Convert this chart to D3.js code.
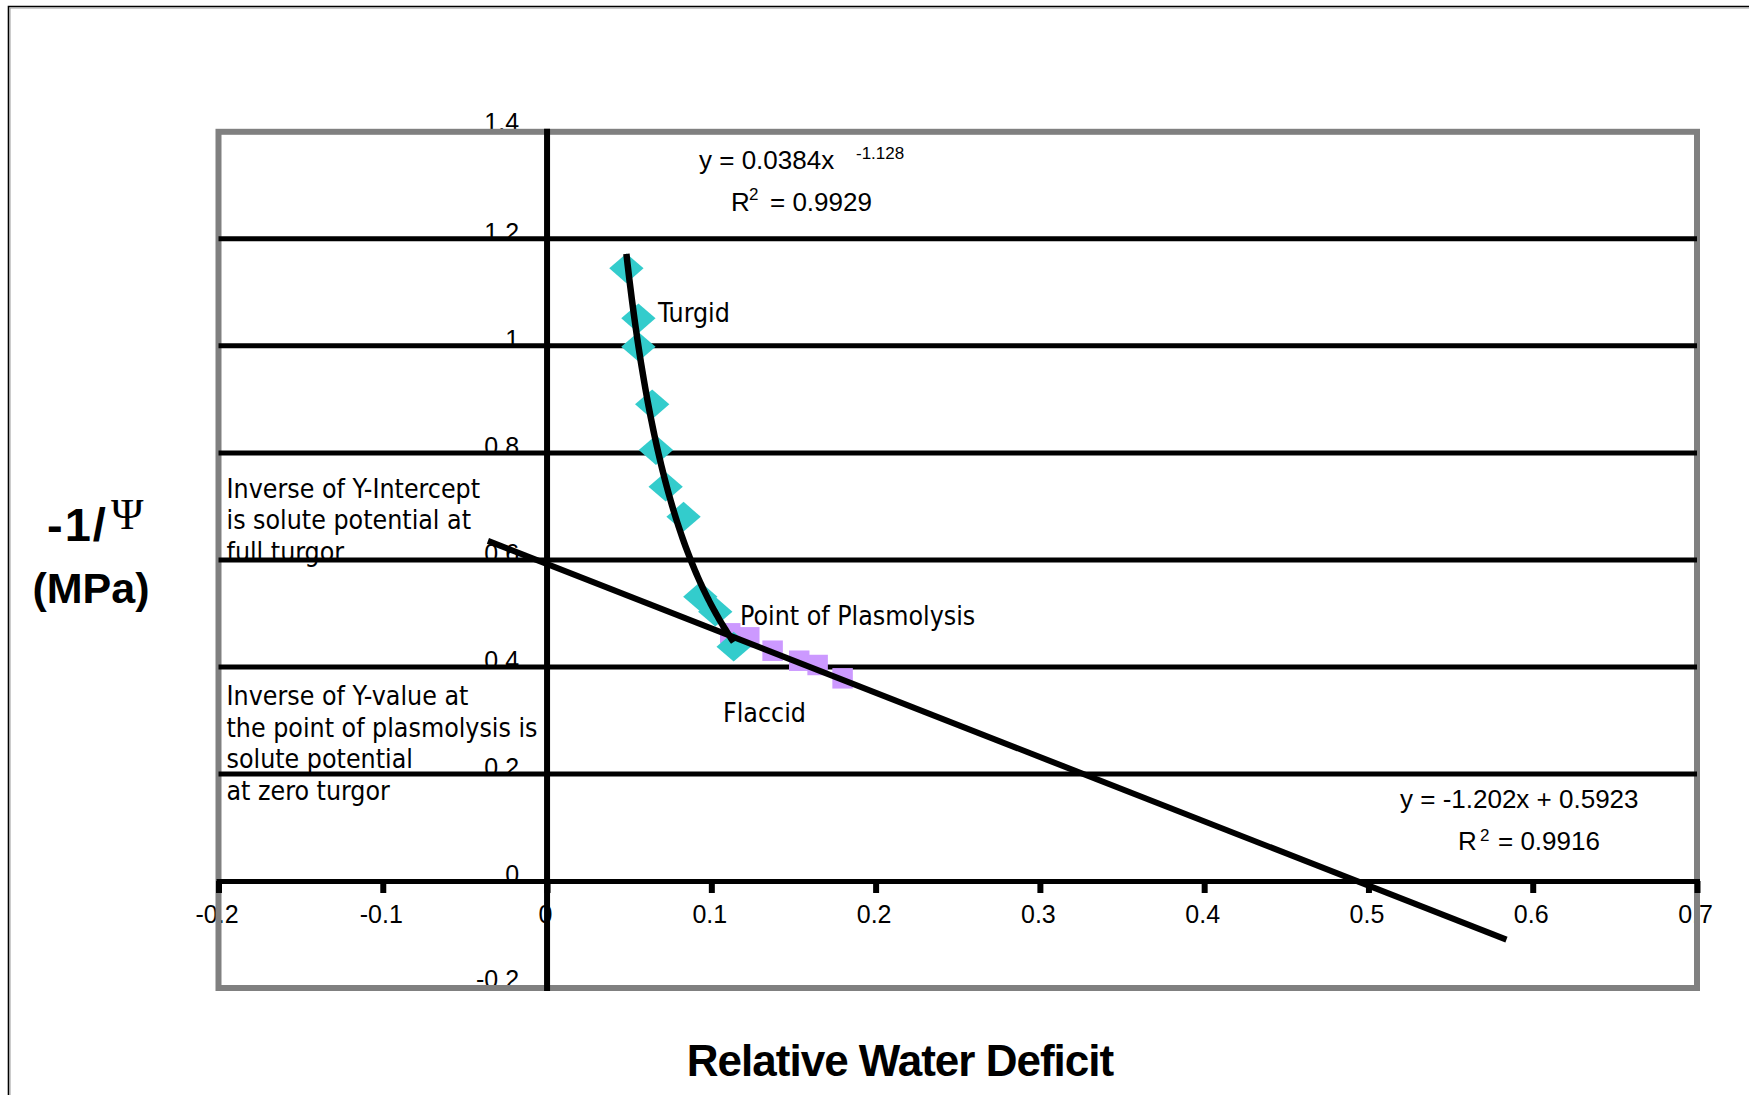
<!DOCTYPE html>
<html>
<head>
<meta charset="utf-8">
<script src="https://cdn.jsdelivr.net/npm/d3@7"></script>
<style>
html,body{margin:0;padding:0;background:#fff;}
svg{display:block;}
</style>
</head>
<body>
<svg id="chart" width="1749" height="1095"></svg>
<script>
// ---------- data ----------
const turgidX = [0.0483, 0.0556, 0.0556, 0.0640, 0.0663, 0.0722, 0.0831, 0.0933, 0.1024, 0.1136];
const turgidY = [1.1448, 1.0514, 0.9983, 0.8907, 0.8053, 0.7367, 0.6807, 0.5312, 0.5032, 0.4378];
const flaccidX = [0.1115, 0.1231, 0.1373, 0.1535, 0.1647, 0.1799];
const flaccidY = [0.4628, 0.4553, 0.4303, 0.4116, 0.4036, 0.3787];
const xTickValues = [-0.2, -0.1, 0, 0.1, 0.2, 0.3, 0.4, 0.5, 0.6, 0.7];
const xTickLabels = ["-0.2", "-0.1", "0", "0.1", "0.2", "0.3", "0.4", "0.5", "0.6", "0.7"];
const yTickValues = [-0.2, 0, 0.2, 0.4, 0.6, 0.8, 1, 1.2, 1.4];
const yTickLabels = ["-0.2", "0", "0.2", "0.4", "0.6", "0.8", "1", "1.2", "1.4"];
const gridValues = [0.2, 0.4, 0.6, 0.8, 1, 1.2];
// trendline coefficients (as printed on the chart)
const powerA = 0.0384, powerB = -1.128;
const linSlope = -1.202, linIntercept = 0.5923;
const linXExtent = [-0.036, 0.584];
const annotLeftTop = ["Inverse of Y-Intercept", "is solute potential at", "full turgor"];
const annotLeftBottom = ["Inverse of Y-value at", "the point of plasmolysis is", "solute potential", "at zero turgor"];

// ---------- setup ----------
const svg = d3.select("#chart");
const x = d3.scaleLinear().domain([-0.2, 0.7]).range([218.5, 1697]);
const y = d3.scaleLinear().domain([-0.2, 1.4]).range([988, 131.8]);

const ARIAL = "'Liberation Sans', Arial, sans-serif";
const TAHOMA = "'DejaVu Sans Condensed', 'Noto Sans', sans-serif";
const ANN = 26.5;

// outer border
svg.append("path").attr("d", "M8.5,1095V6.5H1749").attr("fill", "none")
  .attr("stroke", "#000").attr("stroke-width", 1.6);
svg.append("path").attr("d", "M10,1095V8H1749").attr("fill", "none")
  .attr("stroke", "#999").attr("stroke-width", 1);

// ---------- text layer (under lines) ----------
const txt = svg.append("g").attr("class", "texts");

// axis titles
const yt = txt.append("text").attr("font-family", ARIAL).attr("fill", "#000");
yt.append("tspan").attr("x", 47).attr("y", 541).attr("font-size", 47).attr("font-weight", "bold")
  .attr("letter-spacing", 2).text("-1/");
yt.append("tspan").attr("x", 111).attr("y", 529).attr("font-size", 44)
  .attr("font-family", "'Liberation Serif', 'Times New Roman', serif").text("\u03A8");
txt.append("text").attr("x", 91).attr("y", 603).attr("text-anchor", "middle")
  .attr("font-family", ARIAL).attr("font-size", 43).attr("font-weight", "bold")
  .text("(MPa)");
txt.append("text").attr("x", 900).attr("y", 1076).attr("text-anchor", "middle")
  .attr("font-family", ARIAL).attr("font-size", 44).attr("font-weight", "bold")
  .attr("letter-spacing", -1).text("Relative Water Deficit");

// x tick labels
const gxLab = txt.append("g").attr("transform", `translate(0,${y(0)})`)
  .call(d3.axisBottom(x).tickValues(xTickValues).tickFormat((d, i) => xTickLabels[i]).tickSize(0));
gxLab.select(".domain").remove();
gxLab.attr("font-family", ARIAL).attr("font-size", 25);
gxLab.selectAll("text").attr("y", 42).attr("dy", null).attr("dx", -2).attr("fill", "#000");

// y tick labels
const gyLab = txt.append("g").attr("transform", `translate(${x(0)},0)`)
  .call(d3.axisLeft(y).tickValues(yTickValues).tickFormat((d, i) => yTickLabels[i]).tickSize(0));
gyLab.select(".domain").remove();
gyLab.attr("font-family", ARIAL).attr("font-size", 25);
gyLab.selectAll("text").attr("x", -28).attr("y", d => (d === 1.4 || d === -0.2) ? -1 : 2)
  .attr("dy", null).attr("fill", "#000");

// annotations
const a1 = txt.append("text").attr("font-family", TAHOMA).attr("font-size", ANN).attr("fill", "#000");
annotLeftTop.forEach((s, i) => a1.append("tspan").attr("x", 226.5).attr("y", 497.5 + i * 31.5).text(s));
const a2 = txt.append("text").attr("font-family", TAHOMA).attr("font-size", ANN).attr("fill", "#000");
annotLeftBottom.forEach((s, i) => a2.append("tspan").attr("x", 226.5).attr("y", 705 + i * 31.7).text(s));
txt.append("text").attr("x", 658).attr("y", 322).attr("font-family", TAHOMA).attr("font-size", ANN).text("Turgid");
txt.append("text").attr("x", 740).attr("y", 625).attr("font-family", TAHOMA).attr("font-size", ANN).text("Point of Plasmolysis");
txt.append("text").attr("x", 723).attr("y", 722).attr("font-family", TAHOMA).attr("font-size", ANN).text("Flaccid");

// equations
const e1 = txt.append("text").attr("font-family", ARIAL).attr("font-size", 26).attr("fill", "#000");
e1.append("tspan").attr("x", 699).attr("y", 168.5).text(`y = ${powerA}x`);
e1.append("tspan").attr("x", 856).attr("y", 159).attr("font-size", 17).text(`${powerB}`);
const e2 = txt.append("text").attr("font-family", ARIAL).attr("font-size", 26).attr("fill", "#000");
e2.append("tspan").attr("x", 731).attr("y", 211).text("R");
e2.append("tspan").attr("x", 749).attr("y", 200).attr("font-size", 17).text("2");
e2.append("tspan").attr("x", 770).attr("y", 211).text("= 0.9929");
const e3 = txt.append("text").attr("font-family", ARIAL).attr("font-size", 26).attr("fill", "#000");
e3.append("tspan").attr("x", 1400).attr("y", 808).text(`y = ${linSlope}x + ${linIntercept}`);
const e4 = txt.append("text").attr("font-family", ARIAL).attr("font-size", 26).attr("fill", "#000");
e4.append("tspan").attr("x", 1458).attr("y", 850).text("R");
e4.append("tspan").attr("x", 1480).attr("y", 841).attr("font-size", 17).text("2");
e4.append("tspan").attr("x", 1498).attr("y", 850).text("= 0.9916");

// ---------- frame, grid, axes ----------
svg.append("rect")
  .attr("x", x(-0.2)).attr("y", y(1.4))
  .attr("width", x(0.7) - x(-0.2)).attr("height", y(-0.2) - y(1.4))
  .attr("fill", "none").attr("stroke", "#808080").attr("stroke-width", 6);

svg.append("g").selectAll("line").data(gridValues).join("line")
  .attr("x1", x(-0.2)).attr("x2", x(0.7))
  .attr("y1", d => y(d)).attr("y2", d => y(d))
  .attr("stroke", "#000").attr("stroke-width", 5);

const gxLine = svg.append("g").attr("transform", `translate(0,${y(0)})`)
  .call(d3.axisBottom(x).tickValues(xTickValues).tickFormat("").tickSize(12).tickSizeOuter(0));
gxLine.select(".domain").attr("stroke", "#000").attr("stroke-width", 5).attr("stroke-linecap", "square");
gxLine.selectAll(".tick line").attr("stroke", "#000").attr("stroke-width", 6);

svg.append("line")
  .attr("x1", x(0)).attr("x2", x(0))
  .attr("y1", y(1.4) - 3).attr("y2", y(-0.2) + 3)
  .attr("stroke", "#000").attr("stroke-width", 6);

// ---------- markers ----------
const diamondType = {
  draw(ctx, size) {
    const s = Math.sqrt(size);
    ctx.moveTo(0, -s * 0.45);
    ctx.lineTo(s * 0.52, 0);
    ctx.lineTo(0, s * 0.45);
    ctx.lineTo(-s * 0.52, 0);
    ctx.closePath();
  }
};
const turgid = turgidX.map((v, i) => ({x: v, y: turgidY[i]}));
const flaccid = flaccidX.map((v, i) => ({x: v, y: flaccidY[i]}));

svg.append("g").selectAll("path").data(flaccid).join("path")
  .attr("transform", d => `translate(${x(d.x)},${y(d.y)})`)
  .attr("d", d3.symbol().type(d3.symbolSquare).size(420))
  .attr("fill", "#CC99FF");

svg.append("g").selectAll("path").data(turgid).join("path")
  .attr("transform", d => `translate(${x(d.x)},${y(d.y)})`)
  .attr("d", d3.symbol().type(diamondType).size(33 * 33))
  .attr("fill", "#33CCCC");

// ---------- trendlines ----------
const [pxMin, pxMax] = d3.extent(turgidX);
const powerPts = d3.range(0, 81).map(i => {
  const xv = pxMin + (pxMax - pxMin) * i / 80;
  return {x: xv, y: powerA * Math.pow(xv, powerB)};
});
const line = d3.line().x(d => x(d.x)).y(d => y(d.y));
svg.append("path").datum(powerPts).attr("d", line)
  .attr("fill", "none").attr("stroke", "#000").attr("stroke-width", 6.5);

const linPts = linXExtent.map(xv => ({x: xv, y: linSlope * xv + linIntercept}));
svg.append("path").datum(linPts).attr("d", line)
  .attr("fill", "none").attr("stroke", "#000").attr("stroke-width", 6);
</script>
</body>
</html>
